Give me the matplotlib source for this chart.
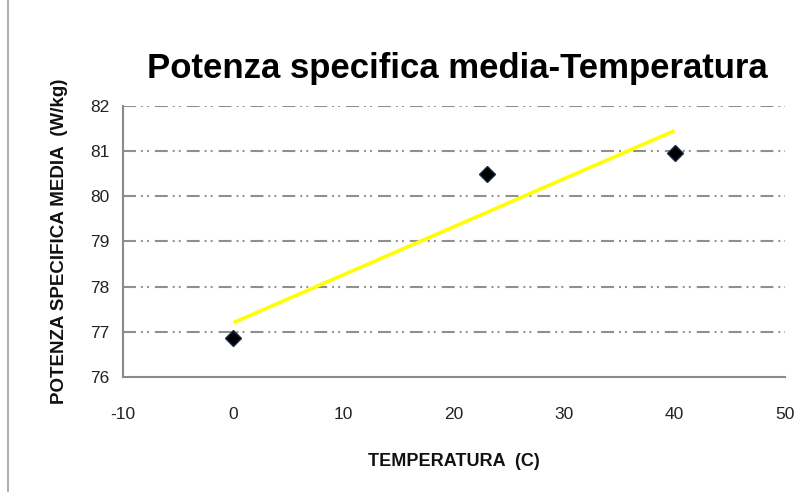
import matplotlib.pyplot as plt
from matplotlib.lines import Line2D

# dati
temperatura = [0, 23, 40]
potenza = [76.85, 80.5, 80.95]

# linea di tendenza (estremi)
trend_x = [0, 40]
trend_y = [77.2, 81.45]

x_ticks = [-10, 0, 10, 20, 30, 40, 50]
y_ticks = [76, 77, 78, 79, 80, 81, 82]

plt.rcParams['font.family'] = ['Liberation Sans', 'DejaVu Sans']
plt.rcParams['axes.unicode_minus'] = False

fig = plt.figure(figsize=(8.1, 4.92), dpi=100)
ax = fig.add_axes([0.152, 0.234, 0.817, 0.551])

# griglia tratto-punto-punto
for yv in y_ticks[1:]:
    ax.axhline(yv, color='#8f8f8f', linewidth=1.5,
               dashes=(6.2, 2.4, 0.9, 2.0, 0.9, 2.9), zorder=1)

ax.plot(trend_x, trend_y, color='#ffff00', linewidth=2.6, zorder=2,
        solid_capstyle='butt')
ax.plot(temperatura, potenza, linestyle='none', marker='D', markersize=8,
        color='black', markeredgecolor='#1a2a4a', zorder=3)

ax.set_xlim(-10, 50)
ax.set_ylim(76, 82)
ax.set_xticks(x_ticks)
ax.set_yticks(y_ticks)
ax.tick_params(length=0, labelsize=12.5, colors='#222222', pad=10)
ax.tick_params(axis='x', pad=22)

for s in ['top', 'right']:
    ax.spines[s].set_visible(False)
for s in ['left', 'bottom']:
    ax.spines[s].set_color('#8a8a8a')
    ax.spines[s].set_linewidth(1.5)

ax.set_xlabel('TEMPERATURA  (C)', fontsize=13, fontweight='bold',
              color='#111111', labelpad=22)
ax.set_ylabel('POTENZA SPECIFICA MEDIA  (W/kg)', fontsize=13.5,
              fontweight='bold', color='#111111', labelpad=16)

fig.text(0.565, 0.86, 'Potenza specifica media-Temperatura', fontsize=25,
         fontweight='bold', ha='center', va='center', color='black')

# bordo sinistro del riquadro
fig.add_artist(Line2D([0.01, 0.01], [0.0, 1.0], color='#a0a0a0',
                      linewidth=1.2, transform=fig.transFigure))

fig.savefig('out.png', dpi=100)
